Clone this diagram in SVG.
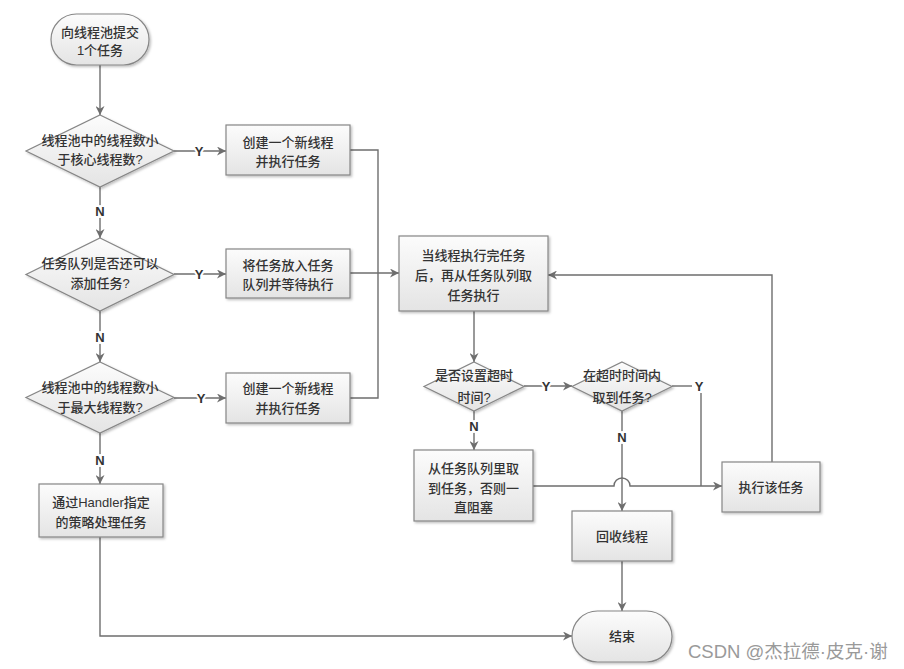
<svg xmlns="http://www.w3.org/2000/svg" width="904" height="669" viewBox="0 0 904 669">
<defs>
<linearGradient id="g" x1="0" y1="0" x2="0" y2="1">
<stop offset="0" stop-color="#fcfcfc"/>
<stop offset="1" stop-color="#e4e4e4"/>
</linearGradient>
<filter id="sh" x="-10%" y="-10%" width="130%" height="130%">
<feDropShadow dx="1.5" dy="1.5" stdDeviation="1" flood-color="#000" flood-opacity="0.25"/>
</filter>
<marker id="ar" viewBox="0 0 10 10" refX="10" refY="5" markerWidth="9" markerHeight="9" markerUnits="userSpaceOnUse" orient="auto">
<path d="M0,0 L10,5 L0,10 L3,5 Z" fill="#6e6e6e"/>
</marker>
</defs>
<style>
.n{fill:url(#g);stroke:#868686;stroke-width:1.2;filter:url(#sh)}
.t{font-family:"Liberation Sans","Noto Sans CJK SC",sans-serif;font-size:13px;fill:#333;text-anchor:middle;font-weight:500}
.c{fill:none;stroke:#6e6e6e;stroke-width:1.4}
.a{marker-end:url(#ar)}
.l{font-family:"Liberation Sans","Noto Sans CJK SC",sans-serif;font-size:13px;fill:#333;text-anchor:middle;stroke:#fff;stroke-width:4;paint-order:stroke;font-weight:bold}
</style>
<rect width="904" height="669" fill="#fff"/>

<g id="connectors">
<path class="c a" d="M100,65 V115"/>
<path class="c a" d="M174,151 H226"/>
<path class="c a" d="M100,187 V238"/>
<path class="c" d="M350,150 H378 V273"/>
<path class="c a" d="M350,273 H399"/>
<path class="c" d="M350,398 H378 V273"/>
<path class="c a" d="M174,274 H226"/>
<path class="c a" d="M100,311 V362"/>
<path class="c a" d="M174,398 H226"/>
<path class="c a" d="M100,433 V484"/>
<path class="c a" d="M100,537 V636 H572"/>
<path class="c a" d="M474,311 V362"/>
<path class="c a" d="M524,386 H572"/>
<path class="c a" d="M474,411 V450"/>
<path class="c a" d="M622,411 V511"/>
<path class="c" d="M672,386 H692"/>
<path class="c" d="M701,393 V486"/>
<path class="c a" d="M533,486 H614 A8,8 0 0 1 630,486 H722"/>
<path class="c a" d="M772,462 V275 H548"/>
<path class="c a" d="M622,561 V611"/>
<text class="l" x="199" y="155.5">Y</text>
<text class="l" x="100" y="215.5">N</text>
<text class="l" x="199" y="278.5">Y</text>
<text class="l" x="100" y="341.5">N</text>
<text class="l" x="201" y="402.5">Y</text>
<text class="l" x="100" y="464.5">N</text>
<text class="l" x="546" y="390.5">Y</text>
<text class="l" x="474" y="430.5">N</text>
<text class="l" x="622" y="441.5">N</text>
<text class="l" x="699" y="390.5">Y</text>
</g>

<g id="start">
<rect class="n" x="51" y="14" width="98" height="51" rx="25.5"/>
<text class="t" x="100" y="36.5">向线程池提交</text>
<text class="t" x="100" y="54.5">1个任务</text>
</g>

<g id="d1">
<polygon class="n" points="100,115 174,151 100,187 26,151"/>
<text class="t" x="100" y="144.5">线程池中的线程数小</text>
<text class="t" x="100" y="164">于核心线程数?</text>
</g>

<g id="box1">
<rect class="n" x="226" y="125" width="124" height="50"/>
<text class="t" x="288" y="146.5">创建一个新线程</text>
<text class="t" x="288" y="166">并执行任务</text>
</g>

<g id="d2">
<polygon class="n" points="100,238 174,274.5 100,311 26,274.5"/>
<text class="t" x="100" y="267.5">任务队列是否还可以</text>
<text class="t" x="100" y="287.5">添加任务?</text>
</g>

<g id="box2">
<rect class="n" x="226" y="249" width="124" height="49"/>
<text class="t" x="288" y="269.5">将任务放入任务</text>
<text class="t" x="288" y="289">队列并等待执行</text>
</g>

<g id="d3">
<polygon class="n" points="100,362 174,397.5 100,433 26,397.5"/>
<text class="t" x="100" y="391.5">线程池中的线程数小</text>
<text class="t" x="100" y="412">于最大线程数?</text>
</g>

<g id="box3">
<rect class="n" x="226" y="373" width="124" height="50"/>
<text class="t" x="288" y="392.5">创建一个新线程</text>
<text class="t" x="288" y="412.5">并执行任务</text>
</g>

<g id="box4">
<rect class="n" x="39" y="484" width="124" height="53"/>
<text class="t" x="101" y="506.5">通过Handler指定</text>
<text class="t" x="101" y="526.5">的策略处理任务</text>
</g>

<g id="bigbox">
<rect class="n" x="399" y="236" width="149" height="75"/>
<text class="t" x="473.5" y="259.5">当线程执行完任务</text>
<text class="t" x="473.5" y="279.5">后，再从任务队列取</text>
<text class="t" x="473.5" y="299.5">任务执行</text>
</g>

<g id="d4">
<polygon class="n" points="474,362 524,386.5 474,411 424,386.5"/>
<text class="t" x="474" y="379.5">是否设置超时</text>
<text class="t" x="474" y="401.5">时间?</text>
</g>

<g id="d5">
<polygon class="n" points="622,362 672,386.5 622,411 572,386.5"/>
<text class="t" x="622" y="379.5">在超时时间内</text>
<text class="t" x="622" y="401.5">取到任务?</text>
</g>

<g id="box5">
<rect class="n" x="414" y="450" width="119" height="71"/>
<text class="t" x="473.5" y="472.5">从任务队列里取</text>
<text class="t" x="473.5" y="492.5">到任务，否则一</text>
<text class="t" x="473.5" y="511.5">直阻塞</text>
</g>

<g id="exec">
<rect class="n" x="722" y="462" width="98" height="50"/>
<text class="t" x="771" y="491.5">执行该任务</text>
</g>

<g id="recycle">
<rect class="n" x="572" y="511" width="100" height="50"/>
<text class="t" x="622" y="540.5">回收线程</text>
</g>

<g id="end">
<rect class="n" x="572" y="611" width="100" height="51" rx="25.5"/>
<text class="t" x="622" y="640.5">结束</text>
</g>

<text x="688" y="658" font-family="Liberation Sans,'Noto Sans CJK SC',sans-serif" font-size="18.5" fill="#9a9a9a">CSDN @杰拉德·皮克·谢</text>
</svg>
